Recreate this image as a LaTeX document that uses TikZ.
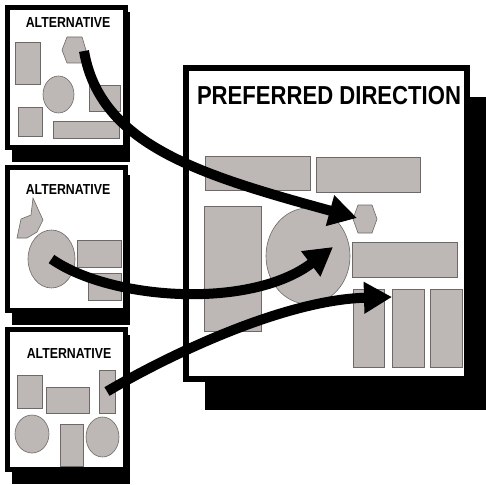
\documentclass[tikz,border=0pt]{standalone}
\usepackage{fontspec}
\newfontfamily\condsans[FakeStretch=0.85]{Liberation Sans}
\usetikzlibrary{arrows.meta, shapes.geometric}
\definecolor{partgray}{RGB}{189,184,182}
\definecolor{partline}{RGB}{110,105,103}
\tikzset{
    %Define standard arrow tip
    >={Triangle[length=28pt,width=30pt]},
}

\begin{document}
\begin{tikzpicture}[x=1pt,y=-1pt]
    \tikzset{
      sheet/.style={draw, fill=white, line width=5pt},
      shd/.style={fill=black},
      part/.style={draw=partline, fill=partgray,
                   line width=0.6pt,
                   inner sep=0pt, outer sep=0pt},
      blk/.style={part, shape=rectangle},
      oval/.style={part, shape=ellipse},
      lbl/.style={font=\condsans\bfseries\fontsize{14.5}{16}\selectfont,
                  inner sep=0pt},
      flow/.style={->, line width=10pt},
    }
    \useasboundingbox (0,0) rectangle (486,484);

    % the three alternatives
    \fill[shd] (12,12) rectangle (130,162);
    \draw[sheet] (7.5,7.5) rectangle (125.5,147.5);
    \fill[shd] (12,175) rectangle (130,325);
    \draw[sheet] (7.5,167.5) rectangle (125.5,310.5);
    \fill[shd] (12,335) rectangle (130,484);
    \draw[sheet] (7.5,329.5) rectangle (125.5,469.5);

    % the preferred direction
    \fill[shd] (205,97) rectangle (486,410);
    \draw[sheet, line width=6pt] (186,68) rectangle (467,379);

    \node[lbl] (altA) at (68,23) {ALTERNATIVE};
    \node[lbl] (altB) at (68,190) {ALTERNATIVE};
    \node[lbl] (altC) at (69,354) {ALTERNATIVE};
    \node[lbl, font=\condsans\bfseries\fontsize{26}{30}\selectfont] (pref) at (329,96) {PREFERRED DIRECTION};

    % alternative A
    \node[blk, minimum width=25pt, minimum height=42pt] (rectA1) at (27.5,63) {};
    \draw[part] (62,50) -- (67,37) -- (82,37) -- (86,50) -- (82,63) -- (67,63) -- cycle;
    \node[oval, minimum width=31pt, minimum height=37pt] (ellA) at (58.5,94.5) {};
    \node[blk, minimum width=31pt, minimum height=26pt] (rectA2) at (104.5,98) {};
    \node[blk, minimum width=24pt, minimum height=29pt] (rectA3) at (30,121.5) {};
    \node[blk, minimum width=66pt, minimum height=17pt] (rectA4) at (86,129.5) {};
    \coordinate (hexA) at (84,51);

    % alternative B
    \draw[part] (33,198) -- (43,220) -- (37,232) -- (27,238) -- (17,238) -- (21,219) -- (31,215) -- cycle;
    \node[oval, minimum width=47pt, minimum height=58pt] (ellB) at (51.5,259) {};
    \node[blk, minimum width=44pt, minimum height=27pt] (rectB1) at (99,253.5) {};
    \node[blk, minimum width=33pt, minimum height=27pt] (rectB2) at (104.5,286.5) {};

    % alternative C
    \node[blk, minimum width=25pt, minimum height=33pt] (rectC1) at (29.5,391.5) {};
    \node[blk, minimum width=43pt, minimum height=26pt] (rectC2) at (67.5,400) {};
    \node[blk, minimum width=16pt, minimum height=43pt] (barC) at (107,391.5) {};
    \node[oval, minimum width=34pt, minimum height=38pt] (ellC1) at (32,434) {};
    \node[blk, minimum width=23pt, minimum height=42pt] (rectC3) at (71.5,445) {};
    \node[oval, minimum width=33pt, minimum height=40pt] (ellC2) at (102.5,437) {};

    % preferred layout
    \node[blk, minimum width=105pt, minimum height=34pt] (topP1) at (257.5,173) {};
    \node[blk, minimum width=104pt, minimum height=35pt] (topP2) at (368,174.5) {};
    \node[blk, minimum width=57pt, minimum height=125pt] (tallP) at (232.5,268.5) {};
    \node[oval, minimum width=84pt, minimum height=96pt] (ellP) at (308,256) {};
    \draw[part] (353,219) -- (358,205) -- (372,205) -- (377,219) -- (372,233) -- (358,233) -- cycle;
    \node[blk, minimum width=105pt, minimum height=35pt] (wideP) at (404.5,259.5) {};
    \node[blk, minimum width=31pt, minimum height=78pt] (barP1) at (368.5,328) {};
    \node[blk, minimum width=32pt, minimum height=78pt] (barP2) at (408,328) {};
    \node[blk, minimum width=32pt, minimum height=78pt] (barP3) at (446,328) {};
    \coordinate (hexP) at (357,218);
    \coordinate (ellPin) at (333,247);
    \coordinate (barPin) at (392,297);

    \draw[flow] (hexA) .. controls (100,145) and (200,175) .. (hexP);
    \draw[flow] (ellB.center) .. controls (110,300) and (250,310) .. (ellPin);
    \draw[flow] (barC.center) .. controls (160,360) and (280,300) .. (barPin);

\end{tikzpicture}
\end{document}
